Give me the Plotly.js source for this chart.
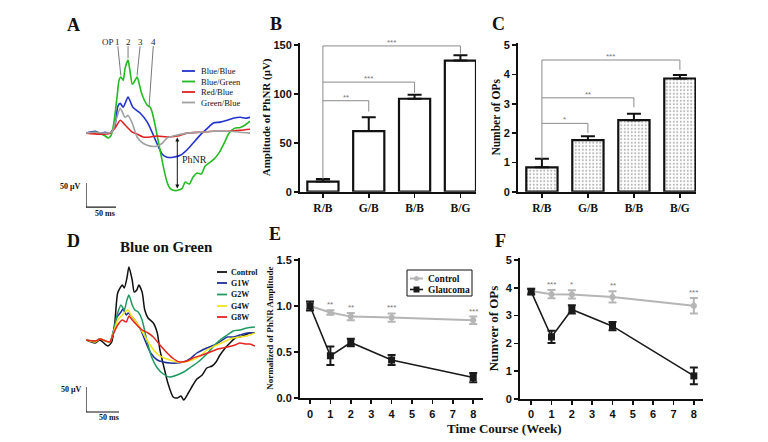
<!DOCTYPE html>
<html><head><meta charset="utf-8">
<script src="https://cdn.plot.ly/plotly-3.0.1.min.js"></script>
<style>html,body{margin:0;padding:0;background:#fff}#chart{width:768px;height:442px}</style>
</head><body><div id="chart"></div>
<script>
// ---------- Panel A: ERG waveforms (time ms, amplitude µV) ----------
const aBlueBlueT = [0,15,23,32,40,48,53,57,62,70,78,90,102,110,118,127,135,145,157,168,178,190,202,212,223,235,245,257,265,273];
const aBlueBlueV = [0,4,0,2,0,15,56,62,54,75,54,42,23,2,-21,-44,-50,-50,-46,-35,-21,-4,10,21,23,27,31,33,31,33];
const aBlueGreenT = [0,15,23,32,37,42,47,52,55,58,62,65,70,73,77,80,85,88,92,97,102,107,110,115,120,125,130,135,140,145,153,160,165,172,178,185,192,198,205,213,222,230,238,247,257,265,273];
const aBlueGreenV = [0,2,0,-6,-10,-4,27,79,110,117,110,135,152,131,102,106,117,106,85,69,58,54,44,17,-15,-46,-77,-102,-115,-119,-119,-115,-102,-106,-92,-83,-85,-69,-62,-54,-40,-21,0,10,12,17,25];
const aRedBlueT = [0,23,40,48,57,65,77,85,95,107,118,135,152,168,190,212,235,257,273];
const aRedBlueV = [0,-2,0,10,27,17,2,-2,-8,-8,-6,-8,-6,0,2,4,4,6,8];
const aGreenBlueT = [0,15,32,43,50,57,65,70,77,85,95,107,118,127,135,145,168,190,212,235,257,273];
const aGreenBlueV = [0,2,0,2,27,52,33,37,21,-8,-21,-27,-27,-21,-10,-6,0,2,4,4,2,0];
const aNames = ['Blue/Blue','Blue/Green','Red/Blue','Green/Blue'];
const aColors = ['#2233cc','#22bb22','#e02020','#a0a0a0'];
const opLabels = ['1','2','3','4'];

// ---------- Panel D: Blue on Green ----------
const dControlT = [0,14,21,33,39,44,48,55,58,62,65,70,73,77,80,85,89,94,102,108,112,118,124,132,138,144,148,155,162,168,176,183,191,197,203,211,218,226,233,241,248,256];
const dControlV = [0,-6,0,-12,-4,40,94,110,104,124,146,120,96,100,110,96,60,44,34,14,-20,-54,-86,-114,-116,-112,-120,-106,-90,-78,-70,-56,-52,-44,-30,-16,-6,4,6,10,14,14];
const dG1WT = [0,14,21,36,42,47,53,56,61,64,70,76,83,91,98,108,117,127,138,148,159,168,183,198,214,223,233,244,256];
const dG1WV = [0,-4,2,-4,20,46,56,62,50,54,46,36,20,-6,-26,-40,-44,-46,-46,-44,-36,-26,-16,-8,6,6,10,14,14];
const dG2WT = [0,14,21,36,42,47,53,58,62,65,70,74,79,85,92,100,108,117,127,138,148,159,168,183,195,203,214,223,233,244,256];
const dG2WV = [0,-2,2,-4,20,50,70,60,80,90,70,60,56,40,0,-36,-56,-68,-74,-70,-64,-54,-46,-28,-10,0,10,18,20,24,26];
const dG4WT = [0,14,21,36,42,48,55,59,64,68,74,82,89,97,108,118,127,138,148,161,173,183,195,208,223,233,244,256];
const dG4WV = [0,-4,2,-4,16,40,50,56,60,50,40,24,8,-10,-28,-36,-40,-44,-44,-40,-32,-20,-12,-4,4,6,8,14];
const dG8WT = [0,14,21,36,42,48,55,61,65,70,77,85,94,102,112,123,133,142,153,162,176,188,200,214,226,233,241,248,256];
const dG8WV = [0,-2,2,-4,14,30,40,36,48,40,30,20,14,6,-10,-26,-38,-44,-42,-36,-30,-24,-18,-14,-10,-6,-8,-8,-12];
const dNames = ['Control','G1W','G2W','G4W','G8W'];
const dColors = ['#111111','#1f2f9a','#1e9a62','#f2e41c','#e8231e'];

// ---------- Panel B & C: bar charts ----------
const barCats = ['R/B','G/B','B/B','B/G'];
const bVals = [10.3, 62, 95, 134];
const bErr  = [2.6, 14, 4, 5.5];
const cVals = [0.83, 1.76, 2.44, 3.86];
const cErr  = [0.29, 0.13, 0.22, 0.12];
// significance brackets: [target index, bracket level, drop end, label]
const bSig = [[1, 93, 82, '**'], [2, 112, 101, '***'], [3, 149, 141, '***']];
const cSig = [[1, 2.33, 2.0, '*'], [2, 3.2, 2.88, '**'], [3, 4.49, 4.15, '***']];

// ---------- Panel E & F: time course ----------
const weeks = [0, 1, 2, 4, 8];
const eControl = [1.0, 0.93, 0.885, 0.875, 0.845];
const eControlErr = [0.03, 0.025, 0.04, 0.045, 0.04];
const eGlaucoma = [1.0, 0.46, 0.605, 0.415, 0.225];
const eGlaucomaErr = [0.05, 0.1, 0.04, 0.055, 0.05];
const fControl = [3.88, 3.77, 3.76, 3.67, 3.35];
const fControlErr = [0.08, 0.15, 0.15, 0.2, 0.28];
const fGlaucoma = [3.86, 2.23, 3.22, 2.62, 0.83];
const fGlaucomaErr = [0.1, 0.22, 0.15, 0.15, 0.3];
const eStars = ['', '**', '**', '***', '***'];
const fStars = ['', '***', '*', '**', '***'];

// ---------- helpers ----------
const W = 768, H = 442;
const PX = x => x / W, PY = y => 1 - y / H;
const SERIF = 'Liberation Serif, Times New Roman, serif';
const SANS = 'Liberation Sans, Arial, sans-serif';
const GRAY = '#8a8a8a';

const traces = [];
const aT = [aBlueBlueT, aBlueGreenT, aRedBlueT, aGreenBlueT];
const aV = [aBlueBlueV, aBlueGreenV, aRedBlueV, aGreenBlueV];
aNames.forEach((n, i) => traces.push({type:'scatter', mode:'lines', name:n, x:aT[i], y:aV[i], xaxis:'x', yaxis:'y',
  line:{color:aColors[i], width:1.6, shape:'spline', smoothing:0.6}, showlegend:false}));
const dT = [dControlT, dG1WT, dG2WT, dG4WT, dG8WT];
const dV = [dControlV, dG1WV, dG2WV, dG4WV, dG8WV];
dNames.forEach((n, i) => traces.push({type:'scatter', mode:'lines', name:n, x:dT[i], y:dV[i], xaxis:'x2', yaxis:'y2',
  line:{color:dColors[i], width:1.5, shape:'spline', smoothing:0.6}, showlegend:false}));

traces.push({type:'bar', x:barCats, y:bVals, xaxis:'x3', yaxis:'y3', width:0.68, showlegend:false,
  marker:{color:'#ffffff', line:{color:'#111', width:2.2}},
  error_y:{type:'data', array:bErr, arrayminus:bErr.map(() => 0), symmetric:false, color:'#111', thickness:2, width:7}});
traces.push({type:'bar', x:barCats, y:cVals, xaxis:'x4', yaxis:'y4', width:0.68, showlegend:false,
  marker:{color:'#ffffff', line:{color:'#111', width:2.2},
    pattern:{shape:'.', fgcolor:'#b4b4b4', bgcolor:'#ffffff', size:3.5, solidity:0.25}},
  error_y:{type:'data', array:cErr, arrayminus:cErr.map(() => 0), symmetric:false, color:'#111', thickness:2, width:7}});

function tc(y, err, ax, col, sym, size, lw, name) {
  return {type:'scatter', mode:'lines+markers', name:name, x:weeks, y:y, xaxis:'x'+ax, yaxis:'y'+ax, showlegend:false,
    line:{color:col, width:lw}, marker:{symbol:sym, size:size, color:col},
    error_y:{type:'data', array:err, color:col, thickness:2, width:4}};
}
traces.push(tc(eControl, eControlErr, 5, '#b5b5b5', 'circle', 6, 2, 'Control'));
traces.push(tc(eGlaucoma, eGlaucomaErr, 5, '#1a1a1a', 'square', 7, 1.6, 'Glaucoma'));
traces.push(tc(fControl, fControlErr, 6, '#b5b5b5', 'circle', 6, 2, 'Control'));
traces.push(tc(fGlaucoma, fGlaucomaErr, 6, '#1a1a1a', 'square', 7, 1.6, 'Glaucoma'));

const shapes = [], ann = [];
function ptext(text, x, y, size, opt) {
  ann.push(Object.assign({text:text, x:PX(x), y:PY(y), xref:'paper', yref:'paper', showarrow:false,
    xanchor:'center', yanchor:'middle', font:{family:SERIF, size:size, color:'#111'}}, opt || {}));
}
// panel letters
[['A',73,25],['B',276,24],['C',498,24],['D',73,241],['E',275,234],['F',500,241]].forEach(p =>
  ptext('<b>'+p[0]+'</b>', p[1], p[2], 18));
ptext('<b>Blue on Green</b>', 166, 247, 15);
ptext('<b>Time Course (Week)</b>', 504, 428, 13);

// panel A decorations: OP markers, PhNR arrow, scale bar
ann.push({text:'OP', x:37, y:190, xref:'x', yref:'y', showarrow:false, font:{family:SERIF, size:9, color:'#222'}});
const opX = [53, 70, 90, 112], opPeakX = [58, 70, 85, 105], opPeakV = [120, 156, 120, 56];
opLabels.forEach((l, i) => {
  ann.push({text:l, x:opX[i], y:190, xref:'x', yref:'y', showarrow:false, font:{family:SERIF, size:9, color:'#222'}});
  shapes.push({type:'line', xref:'x', yref:'y', x0:opX[i], y0:181, x1:opPeakX[i], y1:opPeakV[i], line:{color:'#555', width:0.8}});
});
ann.push({text:'', x:152, y:-115, ax:152, ay:-6, xref:'x', yref:'y', axref:'x', ayref:'y', showarrow:true,
  arrowhead:2, arrowside:'end+start', arrowsize:0.8, arrowwidth:1, arrowcolor:'#111'});
ann.push({text:'PhNR', x:156, y:-54, xref:'x', yref:'y', xanchor:'left', showarrow:false, font:{family:SERIF, size:10, color:'#222'}});
function scaleBar(xr, yr, y0, y1, vx, vy, mx, my) {
  shapes.push({type:'line', xref:xr, yref:yr, x0:0, x1:0, y0:y0, y1:y1, line:{color:'#111', width:1.2}});
  shapes.push({type:'line', xref:xr, yref:yr, x0:0, x1:50, y0:y0, y1:y0, line:{color:'#111', width:1.2}});
  ptext('<b>50 μV</b>', vx, vy, 8, {xanchor:'right'});
  ptext('<b>50 ms</b>', mx, my, 8);
}
scaleBar('x', 'y', -154, -104, 83, 186, 105, 213);
scaleBar('x2', 'y2', -144, -94, 84, 389, 109, 417);

// manual legends A and D
function lineLegend(names, colors, x0, x1, xt, rows, size, bold) {
  names.forEach((n, i) => {
    shapes.push({type:'line', xref:'paper', yref:'paper', x0:PX(x0), x1:PX(x1), y0:PY(rows[i]), y1:PY(rows[i]), line:{color:colors[i], width:1.8}});
    ptext(bold ? '<b>'+n+'</b>' : n, xt, rows[i], size, {xanchor:'left'});
  });
}
lineLegend(aNames, aColors, 182, 195, 199, [71, 81.5, 92, 102.5], 8.5, false);
lineLegend(dNames, dColors, 217, 227, 229, [272, 283, 294.5, 306, 317], 8, true);

// significance brackets for B and C
function brackets(sig, xr, yr, base, fs) {
  const top = Math.max(...sig.map(s => s[1]));
  shapes.push({type:'line', xref:xr, yref:yr, x0:0, x1:0, y0:base, y1:top, line:{color:GRAY, width:1}});
  sig.forEach(s => {
    shapes.push({type:'line', xref:xr, yref:yr, x0:0, x1:s[0], y0:s[1], y1:s[1], line:{color:GRAY, width:1}});
    shapes.push({type:'line', xref:xr, yref:yr, x0:s[0], x1:s[0], y0:s[1], y1:s[2], line:{color:GRAY, width:1}});
    ann.push({text:s[3], x:s[0] / 2, y:s[1], xref:xr, yref:yr, yanchor:'bottom', yshift:-3, showarrow:false,
      font:{family:SANS, size:fs, color:'#777'}});
  });
}
brackets(bSig, 'x3', 'y3', bVals[0] + bErr[0], 8);
brackets(cSig, 'x4', 'y4', cVals[0] + cErr[0], 8);

// stars in E and F
weeks.forEach((w, i) => {
  if (eStars[i]) ann.push({text:eStars[i], x:w, y:eControl[i] + eControlErr[i], xref:'x5', yref:'y5', yanchor:'bottom', yshift:-1,
    showarrow:false, font:{family:SANS, size:8, color:'#777'}});
  if (fStars[i]) ann.push({text:fStars[i], x:w, y:fControl[i] + fControlErr[i], xref:'x6', yref:'y6', yanchor:'bottom', yshift:-1,
    showarrow:false, font:{family:SANS, size:8, color:'#777'}});
});

// legend E
shapes.push({type:'rect', xref:'paper', yref:'paper', x0:PX(407), x1:PX(472), y0:PY(296), y1:PY(270), line:{color:'#111', width:1}, fillcolor:'rgba(0,0,0,0)'});
shapes.push({type:'line', xref:'paper', yref:'paper', x0:PX(410), x1:PX(423), y0:PY(278.5), y1:PY(278.5), line:{color:'#b5b5b5', width:2}});
shapes.push({type:'circle', xref:'paper', yref:'paper', x0:PX(414), x1:PX(419), y0:PY(281), y1:PY(276), line:{width:0}, fillcolor:'#b5b5b5'});
shapes.push({type:'line', xref:'paper', yref:'paper', x0:PX(410), x1:PX(423), y0:PY(289.5), y1:PY(289.5), line:{color:'#1a1a1a', width:1.6}});
shapes.push({type:'rect', xref:'paper', yref:'paper', x0:PX(413.5), x1:PX(419.5), y0:PY(292.5), y1:PY(286.5), line:{width:0}, fillcolor:'#1a1a1a'});
ptext('<b>Control</b>', 426, 278.5, 9.5, {xanchor:'left'});
ptext('<b>Glaucoma</b>', 426, 289.5, 9.5, {xanchor:'left'});

// axes
const hidden = {visible:false, showgrid:false, zeroline:false, fixedrange:true};
function yAx(dom, range, dtick, title, tsize, fmt, standoff) {
  return {domain:dom, range:range, dtick:dtick, tick0:0, tickformat:fmt || '', showline:true, linecolor:'#111', linewidth:2,
    ticks:'outside', ticklen:4, tickwidth:1.6, tickcolor:'#111', showgrid:false, zeroline:false,
    tickfont:{family:SANS, size:11, color:'#111', weight:'bold'},
    title:{text:'<b>'+title+'</b>', font:{family:SERIF, size:tsize, color:'#111'}, standoff:standoff}};
}
function xAx(dom, range, extra) {
  return Object.assign({domain:dom, range:range, showline:true, linecolor:'#111', linewidth:2,
    ticks:'outside', ticklen:4, tickwidth:1.6, tickcolor:'#111', showgrid:false, zeroline:false}, extra);
}
const layout = {
  width:W, height:H, margin:{l:0, r:0, t:0, b:0}, paper_bgcolor:'#fff', plot_bgcolor:'rgba(0,0,0,0)',
  showlegend:false, bargap:0.3,
  xaxis:Object.assign({domain:[PX(86), PX(250)], range:[0, 273], anchor:'y'}, hidden),
  yaxis:Object.assign({domain:[PY(210), PY(40)], range:[-160, 194], anchor:'x'}, hidden),
  xaxis2:Object.assign({domain:[PX(86), PX(255)], range:[0, 256], anchor:'y2'}, hidden),
  yaxis2:Object.assign({domain:[PY(420), PY(255)], range:[-160, 170], anchor:'x2'}, hidden),
  xaxis3:xAx([PX(300), PX(476)], [-0.5, 3.34], {anchor:'y3', type:'category', tickfont:{family:SERIF, size:11.5, color:'#111', weight:'bold'}}),
  yaxis3:Object.assign(yAx([PY(191.7), PY(43)], [0, 152], 50, 'Amplitude of PhNR (μV)', 11, '', 0), {anchor:'x3'}),
  xaxis4:xAx([PX(518), PX(696)], [-0.52, 3.35], {anchor:'y4', type:'category', tickfont:{family:SERIF, size:11.5, color:'#111', weight:'bold'}}),
  yaxis4:Object.assign(yAx([PY(191.7), PY(43)], [0, 5.07], 1, 'Number of OPs', 11.5, '', 1), {anchor:'x4'}),
  xaxis5:xAx([PX(300), PX(483)], [-0.49, 8.48], {anchor:'y5', dtick:1, tick0:0, tickfont:{family:SANS, size:11, color:'#111', weight:'bold'}}),
  yaxis5:Object.assign(yAx([PY(398.3), PY(258)], [0, 1.52], 0.5, 'Normalized of PhNR Amplitude', 9, '.1f', 1), {anchor:'x5'}),
  xaxis6:xAx([PX(520), PX(703)], [-0.55, 8.45], {anchor:'y6', dtick:1, tick0:0, tickfont:{family:SANS, size:11, color:'#111', weight:'bold'}}),
  yaxis6:Object.assign(yAx([PY(399), PY(258)], [0, 5.07], 1, 'Numver of OPs', 13, '', 4), {anchor:'x6'}),
  shapes:shapes, annotations:ann
};
Plotly.newPlot('chart', traces, layout, {staticPlot:true, displayModeBar:false});
</script></body></html>
